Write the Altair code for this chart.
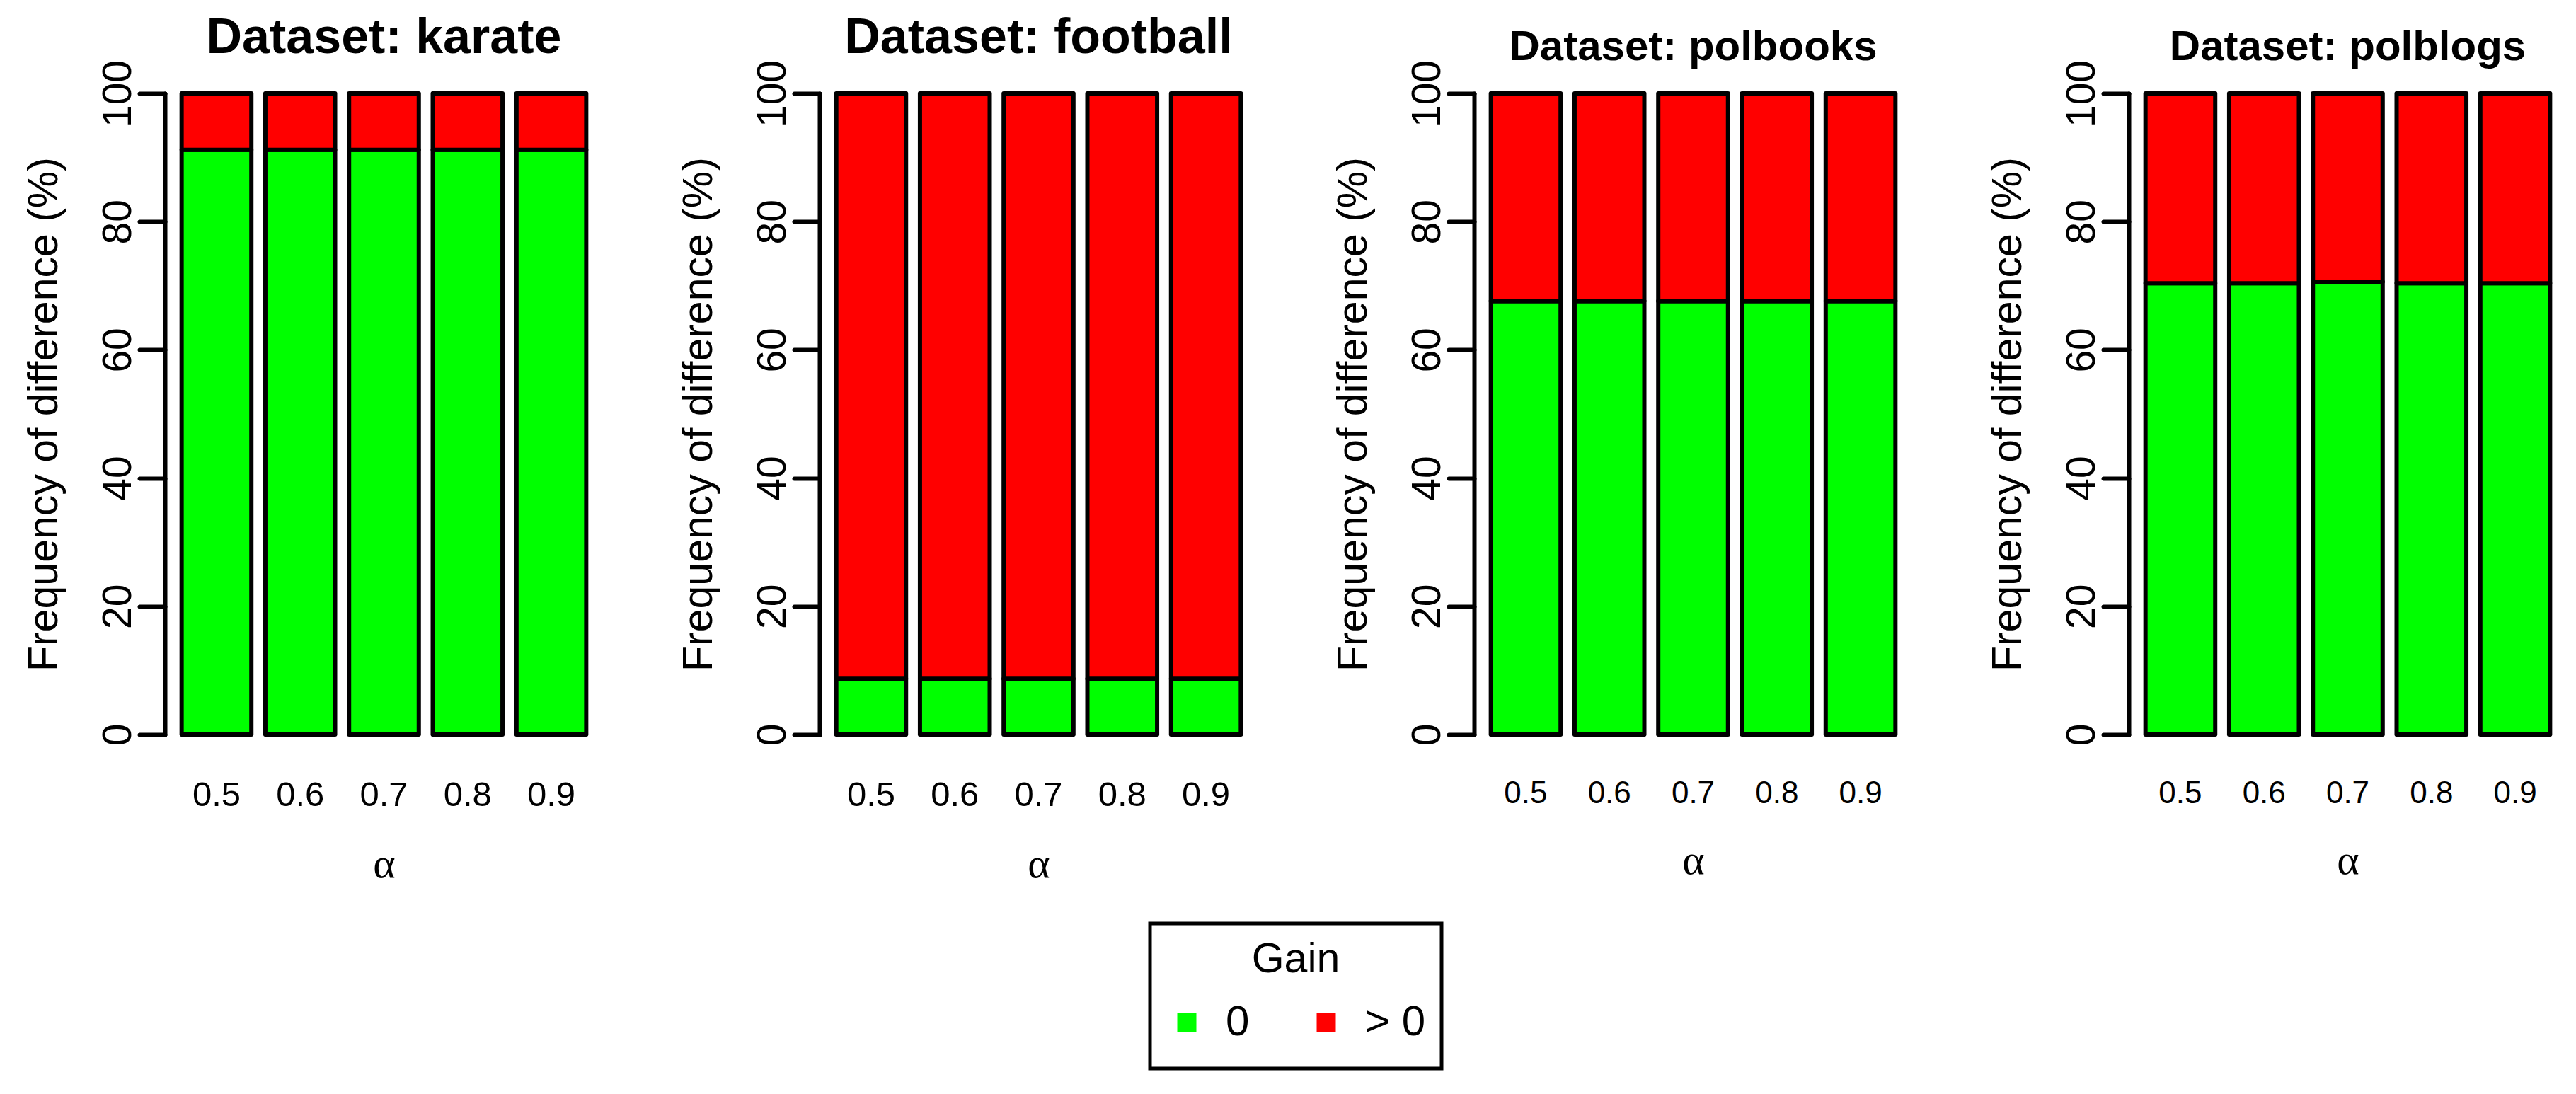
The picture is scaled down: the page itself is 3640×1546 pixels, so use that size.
import altair as alt
import pandas as pd

# ---- data ----
datasets = ["karate", "football", "polbooks", "polblogs"]
alphas = ["0.5", "0.6", "0.7", "0.8", "0.9"]
gain_levels = ["0", "> 0"]
gain_colors = ["#00ff00", "#ff0000"]

karate_gain0 = [91.2, 91.2, 91.2, 91.2, 91.2]
karate_gainpos = [8.8, 8.8, 8.8, 8.8, 8.8]
football_gain0 = [8.7, 8.7, 8.7, 8.7, 8.7]
football_gainpos = [91.3, 91.3, 91.3, 91.3, 91.3]
polbooks_gain0 = [67.6, 67.6, 67.6, 67.6, 67.6]
polbooks_gainpos = [32.4, 32.4, 32.4, 32.4, 32.4]
polblogs_gain0 = [70.4, 70.4, 70.6, 70.4, 70.4]
polblogs_gainpos = [29.6, 29.6, 29.4, 29.6, 29.6]

y_ticks = [0, 20, 40, 60, 80, 100]

series = {
    "karate": (karate_gain0, karate_gainpos),
    "football": (football_gain0, football_gainpos),
    "polbooks": (polbooks_gain0, polbooks_gainpos),
    "polblogs": (polblogs_gain0, polblogs_gainpos),
}

SANS = "Liberation Sans, Arial, Helvetica, sans-serif"
NARROW = "Liberation Sans Narrow, Arial Narrow, Liberation Sans, sans-serif"
SERIF = "Liberation Serif, DejaVu Serif, serif"

PLOT_W = 619
PLOT_H = 906


def panel(name, narrow):
    g0, gp = series[name]
    df = pd.DataFrame({
        "alpha": alphas + alphas,
        "gain": [gain_levels[0]] * len(alphas) + [gain_levels[1]] * len(alphas),
        "order": [0] * len(alphas) + [1] * len(alphas),
        "value": g0 + gp,
    })
    tfont = NARROW if narrow else SANS
    title = alt.TitleParams(
        text=f"Dataset: {name}",
        font=tfont,
        fontSize=60 if narrow else 70,
        fontWeight="bold",
        color="black",
        frame="group",
        anchor="middle",
        baseline="alphabetic",
        offset=-61,
    )
    return (
        alt.Chart(df, title=title)
        .mark_bar(stroke="black", strokeWidth=6, strokeJoin="round")
        .encode(
            x=alt.X(
                "alpha:N",
                sort=alphas,
                scale=alt.Scale(paddingInner=1 / 6, paddingOuter=0.2),
                axis=alt.Axis(
                    title="α",
                    titleFont=SERIF,
                    titleFontSize=60,
                    titleFontWeight="normal",
                    titleColor="black",
                    titlePadding=44,
                    labelAngle=0,
                    labelFont=tfont,
                    labelFontSize=44 if narrow else 49,
                    labelColor="black",
                    labelPadding=61,
                    labelBaseline="top",
                    ticks=False,
                    tickSize=0,
                    domain=False,
                    grid=False,
                ),
            ),
            y=alt.Y(
                "value:Q",
                stack="zero",
                scale=alt.Scale(domain=[0, 100], nice=False),
                axis=alt.Axis(
                    title="Frequency of difference (%)",
                    values=y_ticks,
                    grid=False,
                    domainColor="black",
                    domainWidth=6,
                    domainCap="round",
                    tickColor="black",
                    tickWidth=6,
                    tickSize=36,
                    tickCap="round",
                    labelAngle=270,
                    labelAlign="center",
                    labelBaseline="bottom",
                    labelFont=SANS,
                    labelFontSize=57,
                    labelColor="black",
                    labelPadding=1,
                    labelFlush=False,
                    labelOverlap=False,
                    titleFont=SANS,
                    titleFontSize=59,
                    titleFontWeight="normal",
                    titleColor="black",
                    titleAngle=270,
                    titleBaseline="bottom",
                    titlePadding=46,
                ),
            ),
            color=alt.Color(
                "gain:N",
                scale=alt.Scale(domain=gain_levels, range=gain_colors),
                legend=alt.Legend(
                    title="Gain",
                    orient="none",
                    legendX=1392,
                    legendY=1173,
                    direction="horizontal",
                    titleAnchor="middle",
                    titleFont=SANS,
                    titleFontSize=59,
                    titleFontWeight="normal",
                    titleColor="black",
                    titlePadding=16,
                    labelFont=SANS,
                    labelFontSize=60,
                    labelColor="black",
                    labelOffset=25,
                    columnPadding=78,
                    symbolType="square",
                    symbolSize=729,
                    symbolStrokeWidth=0,
                    symbolOpacity=1,
                    symbolOffset=0,
                    clipHeight=86,
                    padding=22,
                    strokeColor="black",
                ),
            ),
            order=alt.Order("order:Q"),
        )
        .properties(width=PLOT_W, height=PLOT_H)
    )


panels = [panel(n, narrow=(i >= 2)) for i, n in enumerate(datasets)]

chart = (
    alt.hconcat(*panels, spacing=105)
    .properties(padding={"left": 24, "top": 11, "right": 0, "bottom": 0}, background="white")
    .configure_view(stroke=None)
    .configure_legend(strokeWidth=5)
)

chart.save("out.html", embed_options={"renderer": "svg", "actions": False})
